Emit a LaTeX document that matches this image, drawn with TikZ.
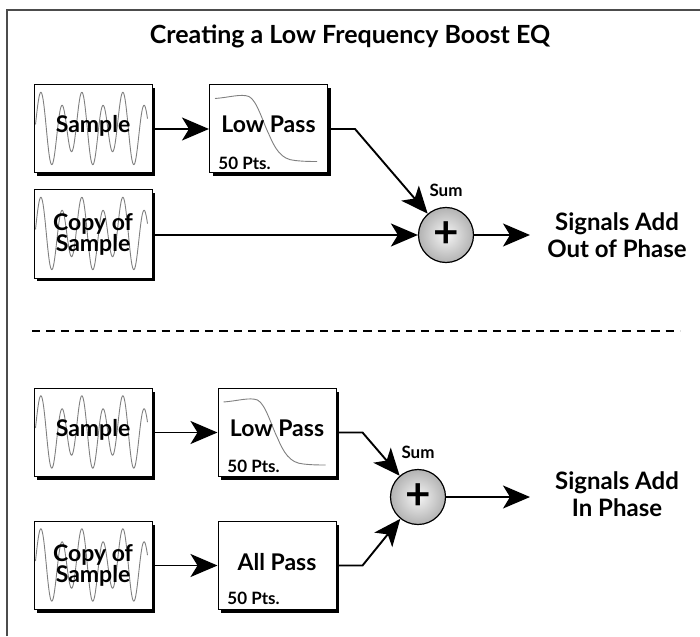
\documentclass[tikz,border=0pt]{standalone}
\usepackage{fontspec}
\setmainfont{Lato}
\usetikzlibrary{arrows.meta, positioning, shadows}

\begin{document}
\begin{tikzpicture}[
    x=0.5pt, y=-0.5pt,
    box/.style={rectangle, draw, line width=0.5pt, fill=white, minimum width=59pt, minimum height=44pt, inner sep=0pt, drop shadow={shadow xshift=1.5pt, shadow yshift=-1.5pt, fill=black, opacity=1}},
    boxtext/.style={anchor=base, inner sep=0pt, font=\fontsize{11.5}{10.5}\selectfont\bfseries},
    twoline/.style={align=center, inner sep=0pt, font=\fontsize{11.5}{10.5}\selectfont\bfseries},
    wave/.style={black!50, line width=0.45pt},
    ptslabel/.style={anchor=base west, inner sep=0pt, font=\fontsize{8.5}{8.5}\selectfont\bfseries},
    sumnode/.style={circle, draw, line width=0.6pt, minimum size=27.5pt, inner sep=0pt, inner color=gray!8, outer color=gray!60, font=\fontsize{22}{22}\selectfont\bfseries},
    sumlabel/.style={inner sep=0pt, font=\fontsize{8.5}{8.5}\selectfont\bfseries},
    result/.style={align=center, inner sep=0pt, font=\fontsize{12}{13.5}\selectfont\bfseries},
    arrow/.style={-{Stealth[length=13.5pt, width=11.5pt, inset=3.5pt]}, line width=0.95pt},
    divider/.style={line width=0.75pt, dash pattern=on 4.2pt off 3pt},
    frame/.style={line width=1pt, black!70},
]
\useasboundingbox (0,0) rectangle (700,636);

% === Frame and title ===
\draw[frame] (7,636) -- (7,10) -- (700,10);
\node (title) [font=\fontsize{12.5}{12.5}\selectfont\bfseries] at (350,36.5) {Creating a Low Frequency Boost EQ};

% === Boxes ===
\node (smp1) [box] at (93,129) {};
\node (lp1) [box] at (268.5,129) {};
\node (cpy1) [box] at (93,234) {};
\node (smp2) [box] at (93,432.5) {};
\node (lp2) [box] at (277,432.5) {};
\node (cpy2) [box] at (93,565.5) {};
\node (ap) [box] at (277,565.5) {};

% waveforms and filter curves
\foreach \b in {smp1,cpy1,smp2,cpy2}
    \draw[wave, shift={(\b.north west)}]
        plot[domain=2:114, samples=240, smooth] (\x, {44 - 29.5*sin(17.561*\x - 45.2) - 9.2*cos(8.7805*\x - 22.6)});
\foreach \b in {lp1,lp2}
    \draw[wave, shift={(\b.north west)}]
        (6,14) .. controls (20,13) and (32,9) .. (40,12) .. controls (48,16) and (54,38) .. (60,50)
        .. controls (66,64) and (72,75) .. (86,76) .. controls (95,77) and (102,77) .. (108,77);

% box labels
\node (smp1txt) [boxtext] at ([yshift=-2pt]smp1.center) {Sample};
\node (lp1txt) [boxtext] at ([yshift=-2pt]lp1.center) {Low Pass};
\node (lp1pts) [ptslabel] at ([xshift=4.5pt, yshift=2pt]lp1.south west) {50 Pts.};
\node (cpy1txt) [twoline] at (cpy1.center) {Copy of\\Sample};
\node (smp2txt) [boxtext] at ([yshift=-2pt]smp2.center) {Sample};
\node (lp2txt) [boxtext] at ([yshift=-2pt]lp2.center) {Low Pass};
\node (lp2pts) [ptslabel] at ([xshift=4.75pt, yshift=2.5pt]lp2.south west) {50 Pts.};
\node (cpy2txt) [twoline] at (cpy2.center) {Copy of\\Sample};
\node (aptxt) [boxtext] at ([yshift=-2.25pt]ap.center) {All Pass};
\node (appts) [ptslabel] at ([xshift=4.75pt, yshift=3pt]ap.south west) {50 Pts.};

% === Out of phase ===
\node (sum1) [sumnode] at (446,235) {+};
\node (sum1lbl) [sumlabel, above=5pt of sum1] {Sum};
\node (res1) [result] at (617,235) {Signals Add\\Out of Phase};
\coordinate (out1) at (530,235);

\draw[arrow] (smp1) -- (lp1);
\draw[arrow] (lp1.east) -- ++(27,0) -- (sum1);
\draw[arrow] (cpy1.east |- sum1) -- (sum1);
\draw[arrow] (sum1) -- (out1);

% === Divider ===
\draw[divider] (32,331) -- (680,331);

% === In phase ===
\node (sum2) [sumnode] at (418,497) {+};
\node (sum2lbl) [sumlabel, above=5pt of sum2] {Sum};
\node (res2) [result] at (617,494) {Signals Add\\In Phase};
\coordinate (out2) at (530,497);

\draw[arrow] (smp2) -- (lp2);
\draw[arrow] (cpy2) -- (ap);
\draw[arrow] (lp2.east) -- ++(26,0) -- (sum2);
\draw[arrow] (ap.east) -- ++(26,0) -- (sum2);
\draw[arrow] (sum2) -- (out2);

\end{tikzpicture}
\end{document}
